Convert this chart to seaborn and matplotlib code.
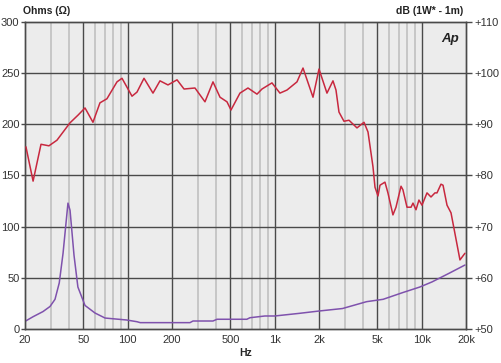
import numpy as np
import pandas as pd
import seaborn as sns
import matplotlib.pyplot as plt
from matplotlib.ticker import FixedLocator, NullFormatter

# response curve (dB SPL, right axis)
spl_freq = [20.3, 22.7, 25.7, 29.1, 33.0, 40.5, 45.9, 51.2, 58.0, 64.7, 72.2, 84.5, 91.4,
            106.9, 115.6, 129.0, 148.5, 165.7, 187.8, 216.4, 241.5, 286.7, 335.3, 380.1,
            424.3, 473.3, 504, 580, 657.6, 757.3, 818.9, 957.5, 1085, 1211, 1417, 1557,
            1821, 2000, 2266, 2490, 2610, 2735, 2958, 3200, 3627, 4048, 4310, 4660, 4810,
            5040, 5200, 5620, 5890, 6370, 6680, 7230, 7450, 7940, 8460, 8720, 9140, 9570,
            10040, 10860, 11560, 12300, 12700, 13520, 13960, 14860, 15820, 18200, 19680]
spl_db = [85.6, 78.9, 86.1, 85.8, 86.9, 90.3, 91.8, 93.2, 90.4, 94.2, 95.0, 98.3, 99.0,
          95.5, 96.3, 99.0, 96.1, 98.5, 97.7, 98.7, 96.9, 97.1, 94.4, 98.3,
          95.3, 94.4, 92.8, 96.1, 97.1, 95.9, 96.9, 98.1, 96.1, 96.7, 98.3, 101.0,
          95.3, 100.8, 96.1, 98.5, 96.7, 92.4, 90.6, 90.8, 89.3, 90.4, 88.5, 81.7, 77.7,
          76.0, 78.1, 78.7, 76.6, 72.3, 73.8, 77.9, 77.2, 73.8, 73.8, 74.6, 73.3, 75.2,
          74.2, 76.6, 75.8, 76.6, 76.6, 78.3, 78.1, 74.2, 72.7, 63.5, 64.8]

# impedance curve (ohms, left axis)
imp_freq = [20.2, 22.7, 26.5, 29.6, 32.0, 34.2, 36.3, 39.2, 40.5, 43.1, 45.8, 51.2, 59.9,
            70.1, 82.1, 98.1, 115.6, 121.6, 141.1, 265, 278, 380, 405, 646, 678, 857,
            1000, 1474, 2013, 2890, 4217, 5460, 7400, 9700, 11750, 15330, 19680]
imp_ohm = [7.8, 12, 17, 22, 29, 45, 74, 123, 116, 72, 41, 23, 15.6,
           10.7, 9.8, 8.8, 7.1, 6.2, 6.2, 6.2, 7.8, 7.8, 9.5, 9.5, 11, 12.7,
           12.7, 15.3, 17.6, 20, 26.7, 29, 35.5, 41, 46, 54.4, 62.5]

major_f = [20, 50, 100, 200, 500, 1000, 2000, 5000, 10000, 20000]
major_lbl = ['20', '50', '100', '200', '500', '1k', '2k', '5k', '10k', '20k']
minor_f = [30, 40, 60, 70, 80, 90, 300, 400, 600, 700, 800, 900,
           3000, 4000, 6000, 7000, 8000, 9000]

sns.set_style('white')
plt.rcParams['font.family'] = ['Liberation Sans', 'DejaVu Sans']

fig = plt.figure(figsize=(5.01, 3.63), dpi=100)
ax = fig.add_axes([0.0499, 0.0937, 0.8802, 0.8457])
ax.set_facecolor('#ececec')

imp = pd.DataFrame({'f': imp_freq, 'z': imp_ohm})
spl = pd.DataFrame({'f': spl_freq, 'db': spl_db})

ax.set_xscale('log')
ax.set_xlim(20, 20000)
ax.set_ylim(0, 300)

# grid
for f in minor_f:
    ax.axvline(f, color='#c4c4c4', lw=1.3, zorder=0.5)
for f in major_f[1:-1]:
    ax.axvline(f, color='#4a4a4a', lw=1.0, zorder=0.6)
for y in range(50, 300, 50):
    ax.axhline(y, color='#4a4a4a', lw=1.0, zorder=0.6)

sns.lineplot(data=imp, x='f', y='z', ax=ax, color='#7f52ad', lw=1.1, zorder=3)

ax2 = ax.twinx()
sns.lineplot(data=spl, x='f', y='db', ax=ax2, color='#c8283f', lw=1.1, zorder=3)
ax2.set_xscale('log')
ax2.set_xlim(20, 20000)
ax2.set_ylim(50, 110)

ax.xaxis.set_major_locator(FixedLocator(major_f))
ax.xaxis.set_minor_locator(FixedLocator(minor_f))
ax.xaxis.set_minor_formatter(NullFormatter())
ax.set_xticklabels(major_lbl)
ax.set_yticks(range(0, 301, 50))
ax2.set_yticks(range(50, 111, 10))
ax2.set_yticklabels(['+%d' % v for v in range(50, 111, 10)])

ax.tick_params(axis='x', which='major', length=3, width=1, color='#4a4a4a',
               labelsize=8, labelcolor='#333333', pad=1.5)
ax.tick_params(axis='x', which='minor', length=0)
ax.tick_params(axis='y', length=3, width=1, color='#4a4a4a', labelsize=8,
               labelcolor='#333333', pad=1)
ax2.tick_params(axis='y', length=4, width=1, color='#4a4a4a', labelsize=8,
                labelcolor='#333333', pad=2)

for a in (ax, ax2):
    for s in a.spines.values():
        s.set_color('#4a4a4a')
        s.set_linewidth(1.0)

ax.set_xlabel('Hz', fontsize=7.5, fontweight='bold', labelpad=2)
ax.set_ylabel('')
ax2.set_ylabel('')

fig.text(23 / 501, 1 - 11 / 363, 'Ohms (Ω)', fontsize=7.5, fontweight='bold',
         ha='left', va='center', color='#222222')
fig.text(463 / 501, 1 - 11 / 363, 'dB (1W* - 1m)', fontsize=7.5, fontweight='bold',
         ha='right', va='center', color='#222222')
ax.text(0.985, 0.965, 'Ap', transform=ax.transAxes, fontsize=9.5, fontweight='bold',
        style='italic', ha='right', va='top', color='#222222', zorder=5)

fig.savefig('out.png', dpi=100)
